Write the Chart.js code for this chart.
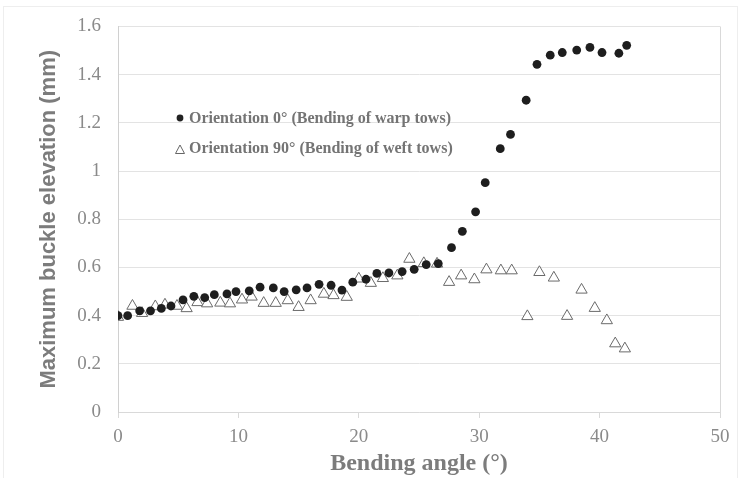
<!DOCTYPE html>
<html>
<head>
<meta charset="utf-8">
<script src="https://cdn.jsdelivr.net/npm/chart.js@4.4.1/dist/chart.umd.min.js"></script>
<style>
    html, body { margin: 0; padding: 0; background: #ffffff; }
    #wrap { width: 743px; height: 478px; position: relative; }
</style>
</head>
<body>
<div id="wrap"><canvas id="buckleChart" width="743" height="478"></canvas></div>
<script>
// Orientation 0° (warp tows)
const warpAngle = [0, 0.8, 1.8, 2.7, 3.6, 4.4, 5.4, 6.3, 7.2, 8.0, 9.05, 9.8, 10.9, 11.8, 12.9, 13.8, 14.8,
    15.7, 16.7, 17.7, 18.6, 19.5, 20.6, 21.5, 22.5, 23.6, 24.6, 25.6, 26.6, 27.7, 28.6, 29.7, 30.5,
    31.75, 32.6, 33.9, 34.8, 35.9, 36.9, 38.1, 39.2, 40.2, 41.6, 42.25];
const warpElev = [0.40, 0.40, 0.42, 0.42, 0.43, 0.44, 0.465, 0.48, 0.475, 0.487, 0.49, 0.50, 0.503, 0.518, 0.515, 0.50, 0.507,
    0.515, 0.53, 0.526, 0.506, 0.539, 0.551, 0.575, 0.577, 0.583, 0.592, 0.612, 0.616, 0.682, 0.75, 0.831, 0.952,
    1.093, 1.152, 1.294, 1.443, 1.481, 1.492, 1.502, 1.513, 1.492, 1.489, 1.522];

// Orientation 90° (weft tows)
const weftAngle = [0, 1.2, 2.0, 3.1, 3.9, 4.9, 5.7, 6.6, 7.4, 8.5, 9.3, 10.3, 11.1, 12.1, 13.1, 14.1, 15.0,
    16.0, 17.1, 17.9, 19.0, 20.0, 21.0, 22.0, 23.2, 24.2, 25.4, 26.5, 27.5, 28.5, 29.6, 30.6, 31.8,
    32.7, 34.0, 35.0, 36.2, 37.3, 38.5, 39.6, 40.6, 41.3, 42.1];
const weftElev = [0.394, 0.44, 0.41, 0.438, 0.445, 0.44, 0.43, 0.455, 0.45, 0.453, 0.45, 0.466, 0.478, 0.452, 0.452, 0.463, 0.435,
    0.463, 0.49, 0.484, 0.477, 0.553, 0.535, 0.555, 0.566, 0.635, 0.617, 0.615, 0.539, 0.566, 0.55, 0.591, 0.587,
    0.587, 0.397, 0.58, 0.557, 0.398, 0.507, 0.431, 0.38, 0.284, 0.263];

const seriesLabels = ['Orientation 0° (Bending of warp tows)', 'Orientation 90° (Bending of weft tows)'];

function toPoints(xs, ys) {
    return xs.map((x, i) => ({ x: x, y: ys[i] }));
}

const serif = '"Liberation Serif", "Times New Roman", serif';

// light outer frame + legend drawn inside the plot
const framePlugin = {
    id: 'frame',
    beforeDraw(chart) {
        const ctx = chart.ctx;
        ctx.save();
        ctx.strokeStyle = '#eeeeee';
        ctx.lineWidth = 1;
        ctx.strokeRect(3.5, 6.5, 734, 480);
        ctx.restore();
    },
    afterDraw(chart) {
        const ctx = chart.ctx;
        const a = chart.chartArea;
        ctx.save();
        // right border of plot
        ctx.strokeStyle = '#d9d9d9';
        ctx.beginPath();
        ctx.moveTo(a.right + 0.5, a.top);
        ctx.lineTo(a.right + 0.5, a.bottom);
        ctx.stroke();

        // legend
        ctx.font = 'bold 16px ' + serif;
        ctx.fillStyle = '#747474';
        ctx.textBaseline = 'middle';
        ctx.fillText(seriesLabels[0], 189, 119);
        ctx.fillText(seriesLabels[1], 189, 149);
        ctx.fillStyle = '#222222';
        ctx.beginPath();
        ctx.arc(180, 118, 3.4, 0, Math.PI * 2);
        ctx.fill();
        ctx.strokeStyle = '#666666';
        ctx.lineWidth = 1;
        ctx.beginPath();
        ctx.moveTo(180, 145);
        ctx.lineTo(184.5, 153.5);
        ctx.lineTo(175.5, 153.5);
        ctx.closePath();
        ctx.stroke();
        ctx.restore();
    }
};

const ctx = document.getElementById('buckleChart').getContext('2d');
const buckleChart = new Chart(ctx, {
    type: 'scatter',
    data: {
        datasets: [{
            label: seriesLabels[0],
            data: toPoints(warpAngle, warpElev),
            pointStyle: 'circle',
            pointRadius: 4.4,
            backgroundColor: '#1e1e1e',
            borderColor: '#1e1e1e',
            borderWidth: 0
        }, {
            label: seriesLabels[1],
            data: toPoints(weftAngle, weftElev),
            pointStyle: 'triangle',
            pointRadius: 6.5,
            backgroundColor: '#ffffff',
            borderColor: '#6a6a6a',
            borderWidth: 1
        }]
    },
    options: {
        responsive: false,
        animation: false,
        layout: { padding: { top: 25, right: 23, left: 36, bottom: 0 } },
        plugins: {
            legend: { display: false },
            tooltip: { enabled: false }
        },
        scales: {
            x: {
                type: 'linear',
                min: 0,
                max: 50,
                ticks: {
                    stepSize: 10,
                    color: '#8a8a8a',
                    padding: 8,
                    font: { family: serif, size: 19 }
                },
                grid: {
                    drawOnChartArea: false,
                    drawTicks: true,
                    tickLength: 6,
                    color: '#d9d9d9'
                },
                border: { color: '#d9d9d9' },
                title: {
                    display: true,
                    text: 'Bending angle (°)',
                    color: '#7c7c7c',
                    padding: { top: 0, bottom: 0 },
                    font: { family: serif, size: 24, weight: 'bold' }
                },
                afterFit(scale) { scale.height = 66; }
            },
            y: {
                min: 0,
                max: 1.6,
                ticks: {
                    stepSize: 0.2,
                    color: '#8a8a8a',
                    padding: 17,
                    font: { family: serif, size: 19, lineHeight: 1 },
                    callback: function(value) {
                        return Math.round(value * 10) / 10;
                    }
                },
                grid: {
                    drawTicks: false,
                    color: '#e3e3e3'
                },
                border: { color: '#d0d0d0' },
                title: {
                    display: true,
                    text: 'Maximum buckle elevation (mm)',
                    color: '#7c7c7c',
                    padding: { top: 0, bottom: 0 },
                    font: { family: '"Liberation Sans", Arial, sans-serif', size: 22, weight: 'bold' }
                },
                afterFit(scale) { scale.width = 82; }
            }
        }
    },
    plugins: [framePlugin]
});
</script>
</body>
</html>
